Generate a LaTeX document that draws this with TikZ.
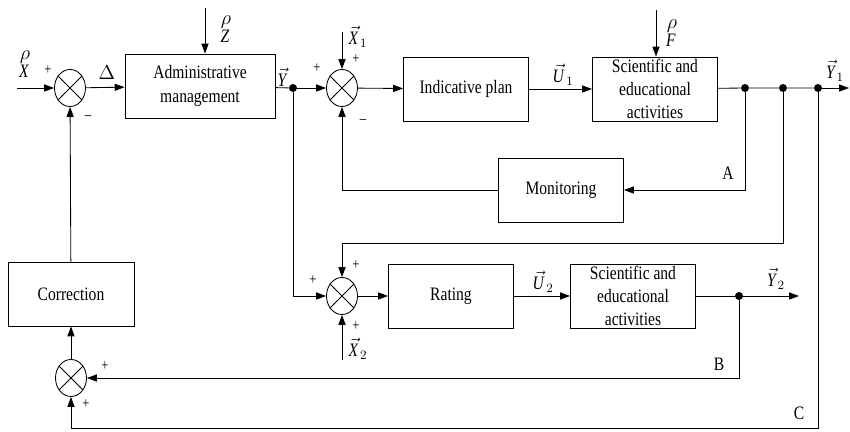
\documentclass[tikz,border=0pt]{standalone}
\usepackage{amsmath}
\usepackage{fontspec}
\setmainfont{Liberation Serif}[FakeStretch=0.82]
\usetikzlibrary{shapes.geometric,arrows.meta}
\begin{document}
\begin{tikzpicture}[x=0.025cm, y=-0.025cm, line width=0.6pt,
	>={Triangle[length=7pt,width=5pt]},
	every node/.style={font=\rmfamily\fontsize{13.5}{16.6}\selectfont},
	block/.style={draw, minimum width=3.125cm, minimum height=1.6cm, align=center, inner sep=0pt},
	sum/.style={draw, ellipse, minimum width=0.775cm, minimum height=0.925cm, inner sep=0pt},
	dot/.style={circle, fill, inner sep=0pt, minimum size=0.2cm},
	sgn/.style={font=\rmfamily\fontsize{11}{11}\selectfont, inner sep=0pt}]
\useasboundingbox (0,0) rectangle (850,432);
% blocks
\node[block, minimum width=3.75cm] (admin) at (200,86) {Administrative\\management};
\node[block] (plan) at (466,89) {Indicative plan};
\node[block] (sci1) at (655,89) {Scientific and\\educational\\activities};
\node[block] (monitor) at (561,190) {Monitoring};
\node[block] (rating) at (451,296) {Rating};
\node[block] (sci2) at (633,296) {Scientific and\\educational\\activities};
\node[block, minimum width=3.15cm] (corr) at (71,294) {Correction};
% summing junctions
\node[sum] (sumIn) at (70,88) {};
\node[sum] (sumPlan) at (342,88) {};
\node[sum] (sumRate) at (342,296) {};
\node[sum] (sumCorr) at (71,378) {};
\foreach \s in {sumIn,sumPlan,sumRate,sumCorr}
	\draw (\s.45) -- (\s.225) (\s.135) -- (\s.315);
% branch points
\node[dot] (dY) at (293,88) {};
\node[dot] (dA) at (745,88) {};
\node[dot] (dR) at (783,88) {};
\node[dot] (dC) at (818,88) {};
\node[dot] (dB) at (739,296) {};
\coordinate (xIn) at (17,88);
\coordinate (zIn) at (205,8);
\coordinate (x1In) at (342,32);
\coordinate (fIn) at (656,10);
\coordinate (y1Out) at (849,88);
\coordinate (rTurn) at (783,243);
\coordinate (x2In) at (342,360);
\coordinate (y2Out) at (799,296);
\coordinate (cTurn) at (818,428);
% upper path
\draw[->] (xIn) -- (sumIn);
\draw[->] (sumIn) -- (admin);
\draw[->] (zIn) -- (zIn |- admin.north);
\draw (admin) -- (dY);
\draw[->] (dY) -- (sumPlan);
\draw[->] (x1In) -- (sumPlan);
\draw[->] (sumPlan) -- (plan);
\draw[->] (plan) -- (sci1);
\draw[->] (fIn) -- (fIn |- sci1.north);
\draw (sci1) -- (dA) -- (dR) -- (dC);
\draw[->] (dC) -- (y1Out);
\draw[->] (dA) |- (monitor);
\draw[->] (monitor) -| (sumPlan);
% lower path
\draw[->] (dR) -- (rTurn) -| (sumRate);
\draw[->] (dY) |- (sumRate);
\draw[->] (x2In) -- (sumRate);
\draw[->] (sumRate) -- (rating);
\draw[->] (rating) -- (sci2);
\draw (sci2) -- (dB);
\draw[->] (dB) -- (y2Out);
% correction loop
\draw[->] (dB) |- (sumCorr);
\draw[->] (dC) -- (cTurn) -| (sumCorr);
\draw[->] (sumCorr) -- (corr);
\draw[->] (corr) -- (sumIn);
% labels
\node (lX) at (25,63) {$\overset{\textstyle\rho}{\mathit{X}}$};
\node (lZ) at (226,28) {$\overset{\textstyle\rho}{\mathit{Z}}$};
\node (lF) at (672,32) {$\overset{\textstyle\rho}{\mathit{F}}$};
\node (lD) at (107,73) {$\Delta$};
\node (lY) at (283,77) {$\vec{\mathit{Y}}$};
\node (lX1) at (358,37) {$\vec{\mathit{X}}_{1}$};
\node (lU1) at (563,75) {$\vec{\mathit{U}}_{1}$};
\node (lY1) at (835,71) {$\vec{\mathit{Y}}_{1}$};
\node (lU2) at (543,282) {$\vec{\mathit{U}}_{2}$};
\node (lY2) at (776,279) {$\vec{\mathit{Y}}_{2}$};
\node (lX2) at (358,349) {$\vec{\mathit{X}}_{2}$};
\node (lA) at (728,173) {A};
\node (lB) at (719,364) {B};
\node (lC) at (799,413) {C};
\node[sgn] (p1) at (48,70) {+};
\node[sgn] (m1) at (88,118) {--};
\node[sgn] (p2) at (317,68) {+};
\node[sgn] (p3) at (356,59) {+};
\node[sgn] (m2) at (363,122) {--};
\node[sgn] (p4) at (313,280) {+};
\node[sgn] (p5) at (356,265) {+};
\node[sgn] (p6) at (356,326) {+};
\node[sgn] (p7) at (105,366) {+};
\node[sgn] (p8) at (86,404) {+};
\end{tikzpicture}
\end{document}
